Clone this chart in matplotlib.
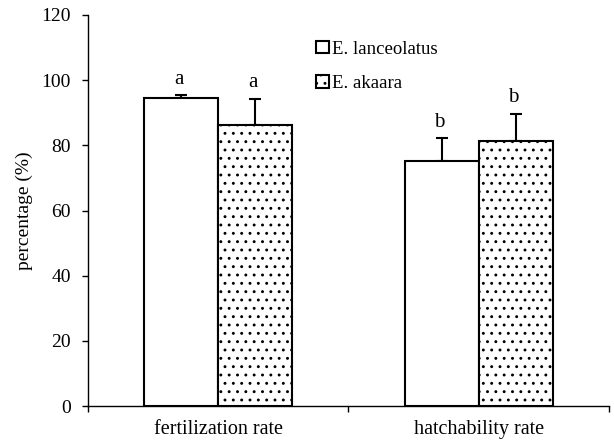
import numpy as np
import matplotlib
matplotlib.use('Agg')
import matplotlib.pyplot as plt

# Donnees
categories = ['fertilization rate', 'hatchability rate']
species = ['E. lanceolatus', 'E. akaara']
lanceolatus = [94.6, 75.2]
akaara = [86.1, 81.4]
lanceolatus_err = [0.9, 7.2]
akaara_err = [8.1, 8.1]
letters_lanceolatus = ['a', 'b']
letters_akaara = ['a', 'b']

plt.rcParams['font.family'] = 'Liberation Serif'
plt.rcParams['hatch.linewidth'] = 0.9

fig = plt.figure(figsize=(6.14, 4.40), dpi=100)
ax = fig.add_axes([0.1433, 0.077, 0.8485, 0.889])

x = np.arange(len(categories))
w = 0.284

ax.bar(x - w / 2, lanceolatus, w, color='white', edgecolor='black',
       linewidth=1.5, label=species[0], zorder=2)
ax.bar(x + w / 2, akaara, w, color='white', edgecolor='black',
       linewidth=1.5, hatch='..', label=species[1], zorder=2)

# barres d'erreur (vers le haut seulement)
ax.errorbar(x - w / 2, lanceolatus, yerr=[np.zeros(2), lanceolatus_err],
            fmt='none', ecolor='black', elinewidth=1.5, capsize=4, capthick=1.5, zorder=1)
ax.errorbar(x + w / 2, akaara, yerr=[np.zeros(2), akaara_err],
            fmt='none', ecolor='black', elinewidth=1.5, capsize=4, capthick=1.5, zorder=1)

# lettres de significativite
for i in range(len(categories)):
    ax.text(x[i] - w / 2 - 0.01, lanceolatus[i] + lanceolatus_err[i] + 1.8,
            letters_lanceolatus[i], ha='center', va='bottom', fontsize=15)
    ax.text(x[i] + w / 2 - 0.01, akaara[i] + akaara_err[i] + 2.2,
            letters_akaara[i], ha='center', va='bottom', fontsize=15)

ax.set_xlim(-0.5, 1.5)
ax.set_ylim(0, 120)
ax.set_yticks(np.arange(0, 121, 20))
ax.set_xticks(x)
ax.set_xticklabels(categories, fontsize=14.5)
ax.set_xticks([-0.5, 0.5, 1.5], minor=True)
ax.tick_params(axis='x', which='major', length=0, pad=10)
ax.tick_params(axis='x', which='minor', length=4, width=1, direction='out')
ax.tick_params(axis='y', labelsize=14, length=4.3, width=1, direction='out', pad=8)
ax.set_ylabel('percentage (%)', fontsize=14, labelpad=6)

for s in ['top', 'right']:
    ax.spines[s].set_visible(False)
ax.spines['left'].set_linewidth(1)
ax.spines['bottom'].set_linewidth(1)

ax.legend(frameon=False, loc='upper left', bbox_to_anchor=(0.503, 0.925),
          bbox_transform=fig.transFigure, fontsize=13.5, handlelength=0.65,
          handleheight=0.65, handletextpad=0.2, labelspacing=0.95,
          borderaxespad=0)

plt.savefig('out.png', dpi=100)
plt.close()
